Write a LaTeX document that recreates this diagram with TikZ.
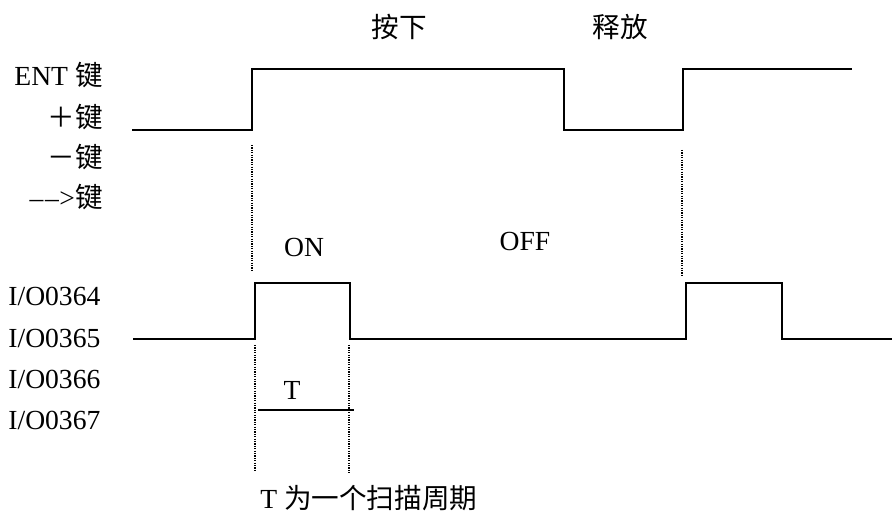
\documentclass[tikz,border=0pt]{standalone}
\usepackage{fontspec}
\setmainfont{Liberation Serif}
\newfontfamily\cjk{Noto Sans CJK SC}
\tikzset{
	wave/.style={line width=1.2pt},
	guide/.style={line width=0.6pt, dash pattern=on 0.6pt off 0.6pt},
	lab/.style={inner sep=0pt}
}
\begin{document}
\begin{tikzpicture}[x=0.5pt,y=-0.5pt,font=\fontsize{13.8}{16}\selectfont]
		\useasboundingbox (0,0) rectangle (892,517);
		% keys
		\node[lab, anchor=east] (ent) at (103,75) {ENT {\cjk 键}};
		\node[lab, anchor=east] (plus) at (103,117) {\cjk ＋键};
		\node[lab, anchor=east] (minus) at (103,157) {\cjk －键};
		\node[lab, anchor=east] (arrow) at (103,197) {\textendash\kern0.8pt\textendash\kern0.3pt>{\cjk 键}};
		\node[lab] (press) at (399,27) {\cjk 按下};
		\node[lab] (release) at (620,27) {\cjk 释放};
		\draw[wave] (132,130) -- (252,130) -- (252,69) -- (564,69) -- (564,130) -- (683,130) -- (683,69) -- (852,69);
		\draw[guide] (252,145) -- (252,270);
		\draw[guide] (682,150) -- (682,277);
		\node[lab] (on) at (304,247) {ON};
		\node[lab] (off) at (525,241) {OFF};
		% outputs
		\node[lab, anchor=west] (io4) at (8,296) {I/O0364};
		\node[lab, anchor=west] (io5) at (8,338) {I/O0365};
		\node[lab, anchor=west] (io6) at (8,379) {I/O0366};
		\node[lab, anchor=west] (io7) at (8,420) {I/O0367};
		\draw[wave] (133,339) -- (255,339) -- (255,283) -- (350,283) -- (350,339) -- (686,339) -- (686,283) -- (782,283) -- (782,339) -- (892,339);
		\draw[guide] (255,345) -- (255,470);
		\draw[guide] (349,345) -- (349,473);
		\draw[line width=0.8pt] (258,410) --node[above=1.5pt, xshift=-7pt] (t) {T} (354,410);
		\node[lab, anchor=west] (note) at (260,498) {T {\cjk 为一个扫描周期}};
	\end{tikzpicture}
\end{document}
